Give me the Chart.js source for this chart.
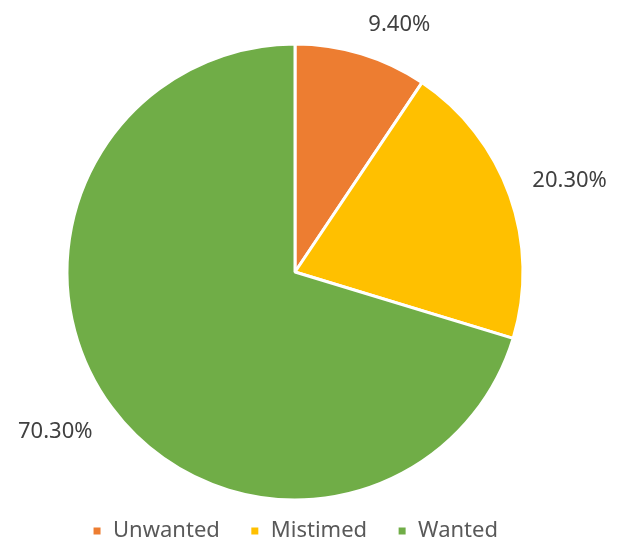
<!DOCTYPE html>
<html>
<head>
<meta charset="utf-8">
<script src="https://cdn.jsdelivr.net/npm/chart.js@4"></script>
<style>
  html, body { margin: 0; padding: 0; background: #ffffff; }
  #wrap { width: 617px; height: 546px; }
</style>
</head>
<body>
<div id="wrap"><canvas id="myChart"></canvas></div>
<script>
// chart data
const categories = ["Unwanted", "Mistimed", "Wanted"];
const shares = [9.4, 20.3, 70.3];
const sliceColors = ["#ED7D31", "#FFC000", "#70AD47"];

// percentage labels just outside each slice
const outsideLabels = {
	id: 'outsideLabels',
	afterDatasetsDraw(chart) {
		const ctx = chart.ctx;
		const meta = chart.getDatasetMeta(0);
		ctx.save();
		ctx.font = '22px "Noto Sans", "Open Sans", sans-serif';
		ctx.fillStyle = '#404040';
		meta.data.forEach((arc, i) => {
			const p = arc.getProps(['x', 'y', 'startAngle', 'endAngle', 'outerRadius'], true);
			const mid = (p.startAngle + p.endAngle) / 2;
			const dx = Math.cos(mid), dy = Math.sin(mid);
			const r = p.outerRadius + 24;
			const ax = p.x + dx * r;
			const ay = p.y + dy * r;
			const text = shares[i].toFixed(2) + '%';
			ctx.textAlign = dx >= 0 ? 'left' : 'right';
			ctx.textBaseline = 'alphabetic';
			const y = dy < 0 ? ay : ay + 16;
			ctx.fillText(text, ax, y);
		});
		ctx.restore();
	}
};

// nudge the legend a little lower
const legendShift = {
	id: 'legendShift',
	afterLayout(chart) {
		chart.legend.top += 6;
		chart.legend.bottom += 6;
	}
};

const myChart = document.getElementById("myChart");

let pieChart = new Chart(myChart, {
	type: 'pie',
	data: {
		labels: categories,
		datasets: [{
			data: shares,
			backgroundColor: sliceColors,
			borderColor: '#ffffff',
			borderWidth: 3,
			radius: 228
		}]
	},
	options: {
		responsive: true,
		maintainAspectRatio: false,
		animation: false,
		layout: {
			padding: {top: 60, left: 0, right: 27, bottom: 0}
		},
		plugins: {
			tooltip: {enabled: false},
			legend: {
				position: 'bottom',
				labels: {
					boxWidth: 10,
					boxHeight: 10,
					padding: 30,
					color: '#595959',
					font: {family: '"Noto Sans", "Open Sans", sans-serif', size: 22}
				}
			}
		}
	},
	plugins: [outsideLabels, legendShift]
});
</script>
</body>
</html>
